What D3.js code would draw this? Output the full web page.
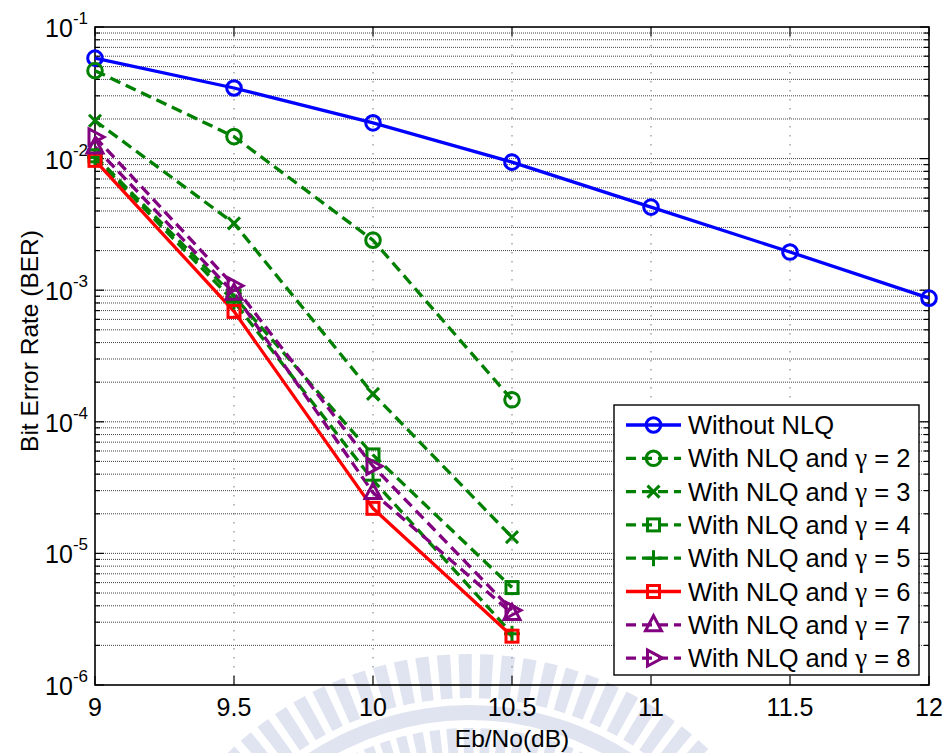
<!DOCTYPE html>
<html>
<head>
<meta charset="utf-8">
<script src="https://cdn.jsdelivr.net/npm/d3@7"></script>
<style>
  body { margin: 0; background: #fff; }
  svg { display: block; font-family: "Liberation Sans", Arial, Helvetica, sans-serif; }
</style>
</head>
<body>
<svg id="chart" width="947" height="753"></svg>
<script>
// Eb/No sweep (dB)
const ebno = [9, 9.5, 10, 10.5, 11, 11.5, 12];
const xTickLabels = ["9", "9.5", "10", "10.5", "11", "11.5", "12"];
const yTickExponents = [-1, -2, -3, -4, -5, -6];

// Bit error rate for each receiver configuration
const berNoNLQ = [0.058, 0.0344, 0.0187, 0.0094, 0.00428, 0.00195, 0.00087];
const berG2 = [0.0466, 0.0147, 0.0024, 1.47e-4];
const berG3 = [0.0194, 0.00322, 1.63e-4, 1.33e-5];
const berG4 = [0.0105, 9.0e-4, 5.6e-5, 5.5e-6];
const berG5 = [0.0102, 8.2e-4, 3.6e-5, 2.45e-6];
const berG6 = [0.0097, 6.9e-4, 2.2e-5, 2.35e-6];
const berG7 = [0.01225, 9.5e-4, 2.9e-5, 3.5e-6];
const berG8 = [0.0146, 1.08e-3, 4.6e-5, 3.7e-6];

const seriesPrefix = "With NLQ and ";
const seriesNames = [
  "Without NLQ",
  "With NLQ and \u03b3 = 2",
  "With NLQ and \u03b3 = 3",
  "With NLQ and \u03b3 = 4",
  "With NLQ and \u03b3 = 5",
  "With NLQ and \u03b3 = 6",
  "With NLQ and \u03b3 = 7",
  "With NLQ and \u03b3 = 8"
];
const seriesValues = [berNoNLQ, berG2, berG3, berG4, berG5, berG6, berG7, berG8];
const seriesColors = ["#0000ff", "#008000", "#008000", "#008000", "#008000", "#ff0000", "#800080", "#800080"];
const seriesMarkers = ["circle", "circle", "x", "square", "plus", "square", "triUp", "triRight"];
const seriesDashed = [false, true, true, true, true, false, true, true];

const series = seriesNames.map((name, i) => ({
  name,
  color: seriesColors[i],
  marker: seriesMarkers[i],
  dashed: seriesDashed[i],
  points: seriesValues[i].map((v, j) => ({ x: ebno[j], y: v }))
}));

const svg = d3.select("#chart");
const pL = 95, pR = 929, pT = 27, pB = 685;

const x = d3.scaleLinear().domain([9, 12]).range([pL, pR]);
const y = d3.scaleLog().domain([1e-6, 1e-1]).range([pB, pT]);

// faint emblem in the page background
const wm = svg.append("g").attr("fill", "#dfe4f0");
const cx = 470, cy = 1000;
function sector(r0, r1, a0, a1) {
  return d3.arc().innerRadius(r0).outerRadius(r1).startAngle(a0).endAngle(a1)();
}
for (let a = -62; a <= 62; a += 3.6) {
  const a0 = (a - 1.1) * Math.PI / 180, a1 = (a + 1.1) * Math.PI / 180;
  wm.append("path").attr("transform", `translate(${cx},${cy})`).attr("d", sector(302, 346, a0, a1));
  wm.append("path").attr("transform", `translate(${cx},${cy})`).attr("d", sector(232, 272, a0 + 0.009, a1 + 0.009));
}
wm.append("path").attr("transform", `translate(${cx},${cy})`)
  .attr("d", sector(280, 295, -70 * Math.PI / 180, 70 * Math.PI / 180));

const plot = svg.append("g");

// horizontal dotted grid at every decade subdivision
const minorY = [];
for (let e = -6; e < -1; e++) {
  for (let m = 1; m < 10; m++) minorY.push(m * Math.pow(10, e));
}
minorY.push(1e-1);
plot.append("g").selectAll("line").data(minorY.filter(v => v > 1.0001e-6 && v < 0.0999)).join("line")
  .attr("x1", pL).attr("x2", pR)
  .attr("y1", d => y(d)).attr("y2", d => y(d))
  .attr("stroke", "#222").attr("stroke-width", 1)
  .attr("stroke-dasharray", "1,1").attr("opacity", 0.85);

// vertical dotted grid at major Eb/No ticks
plot.append("g").selectAll("line").data(ebno.slice(1, -1)).join("line")
  .attr("x1", d => x(d)).attr("x2", d => x(d))
  .attr("y1", pT).attr("y2", pB)
  .attr("stroke", "#777").attr("stroke-width", 1)
  .attr("stroke-dasharray", "1.5,7.5");

// ticks (inward on all four sides)
const tk = svg.append("g").attr("stroke", "#000").attr("stroke-width", 1.2);
minorY.forEach(v => {
  const isMajor = Math.abs(Math.log10(v) - Math.round(Math.log10(v))) < 1e-9;
  const len = isMajor ? 9 : 5;
  tk.append("line").attr("x1", pL).attr("x2", pL + len).attr("y1", y(v)).attr("y2", y(v));
  tk.append("line").attr("x1", pR).attr("x2", pR - len).attr("y1", y(v)).attr("y2", y(v));
});
ebno.forEach(v => {
  tk.append("line").attr("x1", x(v)).attr("x2", x(v)).attr("y1", pB).attr("y2", pB - 9);
  tk.append("line").attr("x1", x(v)).attr("x2", x(v)).attr("y1", pT).attr("y2", pT + 9);
});

// axes frame
svg.append("rect").attr("x", pL).attr("y", pT)
  .attr("width", pR - pL).attr("height", pB - pT)
  .attr("fill", "none").attr("stroke", "#000").attr("stroke-width", 1.6);

// x tick labels
svg.append("g").selectAll("text").data(ebno).join("text")
  .attr("x", d => x(d)).attr("y", pB + 31)
  .attr("text-anchor", "middle").attr("font-size", 25)
  .text((d, i) => xTickLabels[i]);

// y tick labels 10^k
const yl = svg.append("g");
yTickExponents.forEach(e => {
  const t = yl.append("text").attr("x", pL - 7).attr("y", y(Math.pow(10, e)) + 10)
    .attr("text-anchor", "end").attr("font-size", 25);
  t.append("tspan").text("10");
  t.append("tspan").attr("dy", -13).attr("font-size", 17).text(String(e));
});

// axis titles
svg.append("text").attr("x", 512).attr("y", 747).attr("text-anchor", "middle")
  .attr("font-size", 24.5).text("Eb/No(dB)");
svg.append("text").attr("transform", "translate(38,341) rotate(-90)")
  .attr("text-anchor", "middle").attr("font-size", 24.5).text("Bit Error Rate (BER)");

// marker shapes
function drawMarker(g, kind, px, py, color) {
  const s = g.append("g").attr("transform", `translate(${px},${py})`)
    .attr("stroke", color).attr("stroke-width", 3).attr("fill", "none");
  if (kind === "circle") s.append("circle").attr("r", 7.3);
  else if (kind === "square") s.append("rect").attr("x", -6).attr("y", -6).attr("width", 12).attr("height", 12);
  else if (kind === "x") {
    s.append("line").attr("x1", -6).attr("y1", -6).attr("x2", 6).attr("y2", 6);
    s.append("line").attr("x1", -6).attr("y1", 6).attr("x2", 6).attr("y2", -6);
  } else if (kind === "plus") {
    s.append("line").attr("x1", -8).attr("y1", 0).attr("x2", 8).attr("y2", 0);
    s.append("line").attr("x1", 0).attr("y1", -8).attr("x2", 0).attr("y2", 8);
  } else if (kind === "triUp") {
    s.append("path").attr("d", "M0,-9 L8,6 L-8,6 Z").attr("stroke-linejoin", "miter");
  } else if (kind === "triRight") {
    s.append("path").attr("d", "M9,0 L-6,-8 L-6,8 Z").attr("stroke-linejoin", "miter");
  }
}

const line = d3.line().x(d => x(d.x)).y(d => y(d.y));
const lines = svg.append("g");
series.forEach(s => {
  lines.append("path").datum(s.points).attr("d", line)
    .attr("fill", "none").attr("stroke", s.color).attr("stroke-width", 3.3)
    .attr("stroke-dasharray", s.dashed ? "11,6" : null);
});
series.forEach(s => {
  s.points.forEach(p => drawMarker(lines, s.marker, x(p.x), y(p.y), s.color));
});

// legend
const lg = svg.append("g");
lg.append("rect").attr("x", 614).attr("y", 405).attr("width", 305).attr("height", 270)
  .attr("fill", "#fff").attr("stroke", "#000").attr("stroke-width", 1.4);
series.forEach((s, i) => {
  const ry = 425 + i * 33.3;
  lg.append("line").attr("x1", 626).attr("x2", 681).attr("y1", ry).attr("y2", ry)
    .attr("stroke", s.color).attr("stroke-width", 3.3)
    .attr("stroke-dasharray", s.dashed ? "10,6" : null);
  drawMarker(lg, s.marker, 653.5, ry, s.color);
  const t = lg.append("text").attr("x", 688).attr("y", ry + 9).attr("font-size", 25.5);
  const gi = s.name.indexOf("\u03b3");
  if (gi < 0) {
    t.text(s.name);
  } else {
    // the Greek letter is set in a serif face, like a symbol font
    t.append("tspan").text(s.name.slice(0, gi));
    t.append("tspan").attr("font-family", "'Liberation Serif', 'DejaVu Serif', serif")
      .attr("font-size", 27).text("\u03b3");
    t.append("tspan").text(s.name.slice(gi + 1));
  }
});
</script>
</body>
</html>
